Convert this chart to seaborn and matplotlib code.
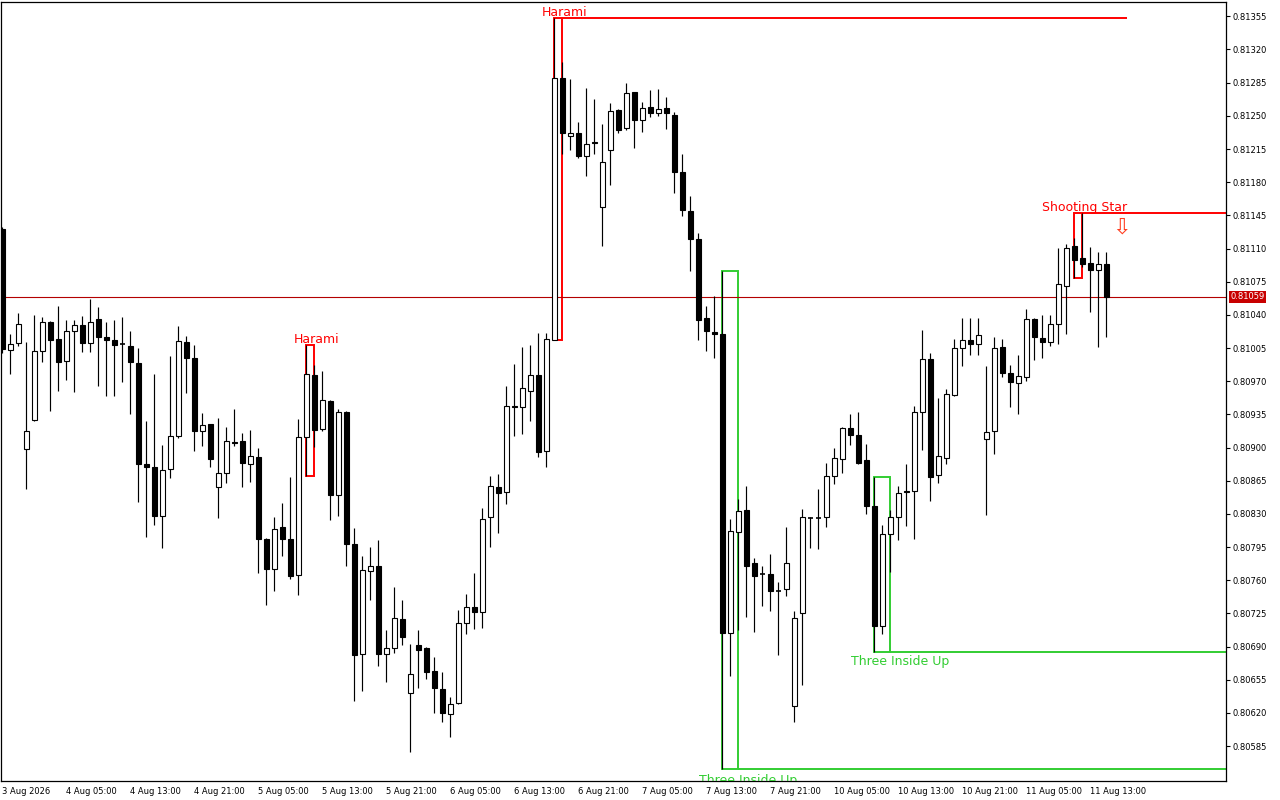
import matplotlib
matplotlib.use("Agg")
import matplotlib.pyplot as plt
import matplotlib.transforms as mtransforms
from matplotlib.patches import Rectangle
import seaborn as sns
import pandas as pd

# hourly candles, prices
opens = [0.81131, 0.81003, 0.81010, 0.80898, 0.80929, 0.81002, 0.81033, 0.81015, 0.80991, 0.81023,
         0.81029, 0.81010, 0.81036, 0.81017, 0.81013, 0.81009, 0.81007, 0.80989, 0.80883, 0.80880,
         0.80828, 0.80877, 0.80912, 0.81011, 0.80995, 0.80917, 0.80925, 0.80858, 0.80873, 0.80906,
         0.80907, 0.80883, 0.80890, 0.80804, 0.80772, 0.80816, 0.80804, 0.80766, 0.80911, 0.80977,
         0.80920, 0.80949, 0.80850, 0.80937, 0.80798, 0.80682, 0.80770, 0.80775, 0.80682, 0.80689,
         0.80719, 0.80641, 0.80692, 0.80688, 0.80664, 0.80645, 0.80619, 0.80630, 0.80715, 0.80732,
         0.80726, 0.80827, 0.80858, 0.80853, 0.80944, 0.80943, 0.80960, 0.80977, 0.80896, 0.81014,
         0.81290, 0.81229, 0.81232, 0.81208, 0.81222, 0.81154, 0.81214, 0.81256, 0.81237, 0.81275,
         0.81246, 0.81259, 0.81253, 0.81258, 0.81251, 0.81191, 0.81150, 0.81120, 0.81037, 0.81022,
         0.81020, 0.80704, 0.80811, 0.80834, 0.80778, 0.80767, 0.80767, 0.80749, 0.80751, 0.80627,
         0.80725, 0.80826, 0.80826, 0.80827, 0.80870, 0.80888, 0.80921, 0.80913, 0.80887, 0.80838,
         0.80712, 0.80809, 0.80827, 0.80854, 0.80854, 0.80937, 0.80993, 0.80871, 0.80889, 0.80955,
         0.81005, 0.81013, 0.81009, 0.80909, 0.80918, 0.81006, 0.80979, 0.80968, 0.80974, 0.81036,
         0.81016, 0.81011, 0.81030, 0.81070, 0.81113, 0.81100, 0.81095, 0.81087, 0.81094]
highs = [0.81133, 0.81020, 0.81042, 0.81011, 0.81040, 0.81038, 0.81034, 0.81049, 0.81035, 0.81035,
         0.81039, 0.81057, 0.81048, 0.81033, 0.81035, 0.81038, 0.81023, 0.81005, 0.80928, 0.80978,
         0.80903, 0.80997, 0.81028, 0.81018, 0.81008, 0.80936, 0.80925, 0.80931, 0.80922, 0.80941,
         0.80915, 0.80919, 0.80900, 0.80805, 0.80827, 0.80841, 0.80869, 0.80930, 0.81008, 0.80987,
         0.80981, 0.80950, 0.80941, 0.80939, 0.80815, 0.80786, 0.80795, 0.80802, 0.80708, 0.80753,
         0.80739, 0.80693, 0.80707, 0.80690, 0.80679, 0.80663, 0.80637, 0.80729, 0.80745, 0.80768,
         0.80836, 0.80870, 0.80872, 0.80965, 0.80988, 0.81006, 0.81008, 0.81021, 0.81021, 0.81353,
         0.81307, 0.81289, 0.81244, 0.81279, 0.81268, 0.81241, 0.81264, 0.81257, 0.81285, 0.81275,
         0.81265, 0.81277, 0.81278, 0.81270, 0.81254, 0.81210, 0.81165, 0.81126, 0.81049, 0.81060,
         0.81086, 0.80825, 0.80846, 0.80859, 0.80783, 0.80775, 0.80788, 0.80758, 0.80816, 0.80728,
         0.80835, 0.80827, 0.80856, 0.80884, 0.80900, 0.80922, 0.80935, 0.80937, 0.80904, 0.80869,
         0.80818, 0.80834, 0.80859, 0.80883, 0.80944, 0.81024, 0.81000, 0.80952, 0.80962, 0.81015,
         0.81037, 0.81037, 0.81037, 0.80986, 0.81017, 0.81015, 0.80987, 0.80998, 0.81046, 0.81037,
         0.81040, 0.81040, 0.81111, 0.81115, 0.81121, 0.81147, 0.81112, 0.81106, 0.81106]
lows = [0.81000, 0.80978, 0.81007, 0.80856, 0.80928, 0.80990, 0.80939, 0.80960, 0.80971, 0.80959,
        0.81001, 0.81001, 0.80965, 0.80954, 0.80954, 0.80969, 0.80935, 0.80843, 0.80806, 0.80818,
        0.80794, 0.80868, 0.80910, 0.80958, 0.80896, 0.80902, 0.80879, 0.80826, 0.80863, 0.80902,
        0.80858, 0.80864, 0.80768, 0.80734, 0.80749, 0.80786, 0.80761, 0.80744, 0.80870, 0.80901,
        0.80918, 0.80824, 0.80828, 0.80775, 0.80633, 0.80643, 0.80739, 0.80670, 0.80653, 0.80683,
        0.80692, 0.80579, 0.80646, 0.80656, 0.80620, 0.80610, 0.80595, 0.80629, 0.80703, 0.80709,
        0.80710, 0.80795, 0.80810, 0.80840, 0.80912, 0.80914, 0.80928, 0.80890, 0.80879, 0.81013,
        0.81210, 0.81214, 0.81206, 0.81187, 0.81210, 0.81113, 0.81177, 0.81232, 0.81235, 0.81216,
        0.81233, 0.81249, 0.81250, 0.81236, 0.81169, 0.81144, 0.81086, 0.81014, 0.81002, 0.80994,
        0.80561, 0.80659, 0.80708, 0.80721, 0.80705, 0.80733, 0.80728, 0.80681, 0.80743, 0.80610,
        0.80650, 0.80794, 0.80793, 0.80816, 0.80862, 0.80873, 0.80903, 0.80883, 0.80830, 0.80684,
        0.80703, 0.80769, 0.80802, 0.80817, 0.80803, 0.80897, 0.80844, 0.80863, 0.80883, 0.80954,
        0.80986, 0.80998, 0.80998, 0.80829, 0.80893, 0.80974, 0.80943, 0.80935, 0.80970, 0.80992,
        0.80994, 0.81007, 0.81009, 0.81020, 0.81079, 0.81090, 0.81043, 0.81006, 0.81017]
closes = [0.81004, 0.81009, 0.81030, 0.80917, 0.81002, 0.81033, 0.81014, 0.80990, 0.81023, 0.81029,
          0.81010, 0.81032, 0.81017, 0.81014, 0.81008, 0.81009, 0.80990, 0.80883, 0.80879, 0.80828,
          0.80876, 0.80912, 0.81012, 0.80995, 0.80918, 0.80924, 0.80888, 0.80873, 0.80907, 0.80905,
          0.80884, 0.80891, 0.80803, 0.80772, 0.80814, 0.80803, 0.80765, 0.80911, 0.80978, 0.80919,
          0.80950, 0.80850, 0.80937, 0.80798, 0.80681, 0.80771, 0.80775, 0.80682, 0.80689, 0.80720,
          0.80700, 0.80661, 0.80686, 0.80663, 0.80646, 0.80620, 0.80629, 0.80715, 0.80732, 0.80726,
          0.80825, 0.80859, 0.80852, 0.80944, 0.80943, 0.80963, 0.80977, 0.80895, 0.81015, 0.81290,
          0.81232, 0.81232, 0.81208, 0.81220, 0.81221, 0.81201, 0.81255, 0.81235, 0.81274, 0.81246,
          0.81258, 0.81253, 0.81257, 0.81253, 0.81191, 0.81151, 0.81120, 0.81035, 0.81023, 0.81020,
          0.80704, 0.80812, 0.80833, 0.80775, 0.80765, 0.80767, 0.80749, 0.80749, 0.80778, 0.80720,
          0.80827, 0.80826, 0.80826, 0.80870, 0.80889, 0.80921, 0.80913, 0.80884, 0.80838, 0.80712,
          0.80809, 0.80827, 0.80852, 0.80853, 0.80938, 0.80993, 0.80869, 0.80891, 0.80956, 0.81005,
          0.81013, 0.81009, 0.81019, 0.80916, 0.81005, 0.80979, 0.80969, 0.80975, 0.81036, 0.81017,
          0.81011, 0.81030, 0.81073, 0.81111, 0.81098, 0.81094, 0.81087, 0.81094, 0.81059]

time_labels = ["3 Aug 2026", "4 Aug 05:00", "4 Aug 13:00", "4 Aug 21:00", "5 Aug 05:00",
               "5 Aug 13:00", "5 Aug 21:00", "6 Aug 05:00", "6 Aug 13:00", "6 Aug 21:00",
               "7 Aug 05:00", "7 Aug 13:00", "7 Aug 21:00", "10 Aug 05:00", "10 Aug 13:00",
               "10 Aug 21:00", "11 Aug 05:00", "11 Aug 13:00"]
price_ticks = [0.80585, 0.80620, 0.80655, 0.80690, 0.80725, 0.80760, 0.80795, 0.80830,
               0.80865, 0.80900, 0.80935, 0.80970, 0.81005, 0.81040, 0.81075, 0.81110,
               0.81145, 0.81180, 0.81215, 0.81250, 0.81285, 0.81320, 0.81355]
last_price = 0.81059

# pattern name, first bar, last bar, colour, level ("high"/"low"/None)
pattern_names = ["Harami", "Harami", "Three Inside Up", "Three Inside Up", "Shooting Star"]
pattern_first = [38, 69, 90, 109, 134]
pattern_last = [39, 70, 92, 111, 135]
pattern_kind = ["bear", "bear", "bull", "bull", "bear"]
pattern_level = [None, "high", "low", "low", "high"]

df = pd.DataFrame({"open": opens, "high": highs, "low": lows, "close": closes})
df["x"] = range(len(df))
df["up"] = df["close"] > df["open"]

sns.set_theme(style="white")
plt.rcParams["font.family"] = ["DejaVu Sans"]

fig = plt.figure(figsize=(12.8, 8), dpi=100)
ax = fig.add_axes([1 / 1280, 1 - 781 / 800, 1225 / 1280, 779 / 800])

RED = "#FF0000"
GREEN = "#32CD32"
BODY_W = 0.58

# pattern boxes and level lines (below candles)
x_right = 152.94
for name, a, b, kind, level in zip(pattern_names, pattern_first, pattern_last,
                                   pattern_kind, pattern_level):
    seg = df.iloc[a:b + 1]
    hi, lo = seg["high"].max(), seg["low"].min()
    col = RED if kind == "bear" else GREEN
    ax.add_patch(Rectangle((a, lo), b - a, hi - lo, fill=False, edgecolor=col,
                           linewidth=1.4, zorder=1))
    if level == "high":
        end = 140.6 if a == 69 else x_right
        ax.hlines(hi, b, end, color=col, linewidth=1.4, zorder=1)
    elif level == "low":
        ax.hlines(lo, b, x_right, color=col, linewidth=1.4, zorder=1)

# current price line
ax.axhline(last_price, color="#B40000", linewidth=0.8, zorder=1)

# wicks
ax.vlines(df["x"], df["low"], df["high"], color="black", linewidth=0.85, zorder=2)

# bodies
up = df[df["up"]]
down = df[~df["up"] & (df["close"] != df["open"])]
flat = df[df["close"] == df["open"]]
ax.bar(up["x"], up["close"] - up["open"], bottom=up["open"], width=BODY_W,
       color="white", edgecolor="black", linewidth=0.8, zorder=3)
ax.bar(down["x"], down["open"] - down["close"], bottom=down["close"], width=BODY_W,
       color="black", edgecolor="black", linewidth=0.8, zorder=3)
ax.hlines(flat["open"], flat["x"] - BODY_W / 2, flat["x"] + BODY_W / 2,
          color="black", linewidth=1.2, zorder=3)

# pattern labels
txt = dict(fontsize=9, ha="center", va="baseline", zorder=4)
ax.text(39.2, 0.810103, "Harami", color=RED, **txt)
ax.text(70.2, 0.813553, "Harami", color=RED, **txt)
ax.text(135.25, 0.811496, "Shooting Star", color=RED, **txt)
ax.text(112.2, 0.806706, "Three Inside Up", color=GREEN, **txt)
ax.text(93.2, 0.805450, "Three Inside Up", color=GREEN, clip_on=True, **txt)
ax.text(139.9, 0.81132, "\u21e9", color="#FF3C1E", fontsize=16, ha="center",
        va="center", zorder=4)

ax.set_xlim(-0.1875, x_right)
ax.set_ylim(0.805482, 0.813701)

ax.set_xticks(range(0, 8 * len(time_labels), 8))
ax.set_xticklabels(time_labels, fontsize=6, ha="left")
ax.set_yticks(price_ticks)
ax.set_yticklabels([f"{p:.5f}" for p in price_ticks], fontsize=6)
ax.yaxis.tick_right()
ax.tick_params(axis="both", direction="out", length=3, width=0.8, color="black",
               labelcolor="black", pad=1.5)
ax.tick_params(axis="x", pad=1)
for sp in ax.spines.values():
    sp.set_color("black")
    sp.set_linewidth(0.9)

# last price tag on the scale
trans = mtransforms.blended_transform_factory(ax.transAxes, ax.transData)
ax.text(1.0035, last_price, f"{last_price:.5f}", transform=trans, fontsize=6,
        color="white", va="center", ha="left", clip_on=False,
        bbox=dict(facecolor="#C80000", edgecolor="none", pad=1.2))

fig.savefig("out.png", dpi=100, facecolor="white")
plt.close(fig)
